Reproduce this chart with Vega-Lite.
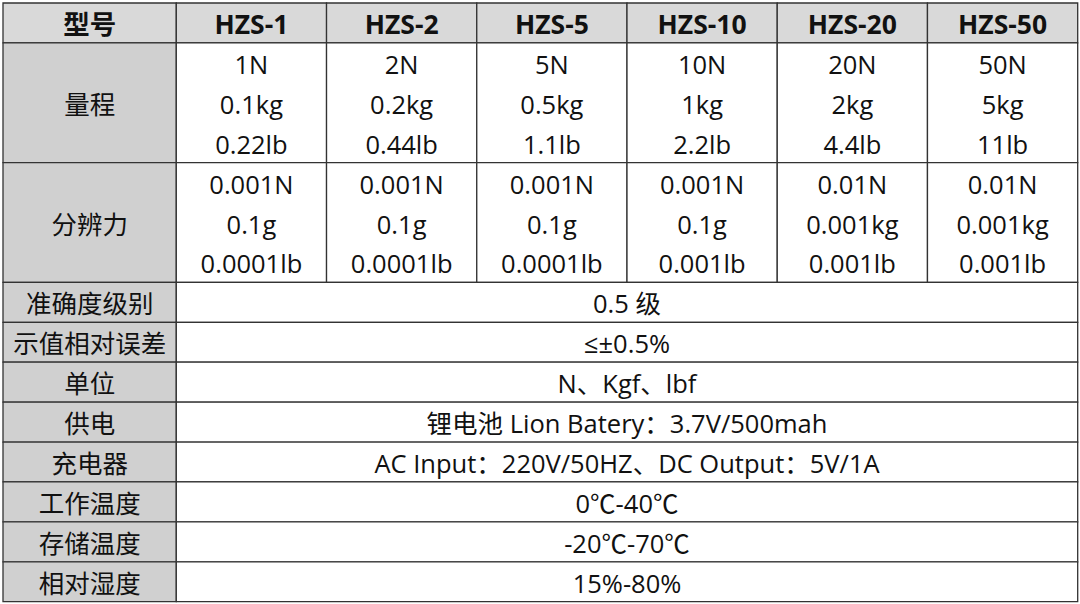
{
  "$schema": "https://vega.github.io/schema/vega-lite/v6.json",
  "width": 1080,
  "height": 604,
  "autosize": "none",
  "padding": 0,
  "background": "white",
  "config": {"view": {"stroke": null}},
  "datasets": {
    "cells": [
      {"c0": 0, "c1": 1, "r0": 0, "r1": 1, "kind": "header"},
      {"c0": 1, "c1": 2, "r0": 0, "r1": 1, "kind": "header"},
      {"c0": 2, "c1": 3, "r0": 0, "r1": 1, "kind": "header"},
      {"c0": 3, "c1": 4, "r0": 0, "r1": 1, "kind": "header"},
      {"c0": 4, "c1": 5, "r0": 0, "r1": 1, "kind": "header"},
      {"c0": 5, "c1": 6, "r0": 0, "r1": 1, "kind": "header"},
      {"c0": 6, "c1": 7, "r0": 0, "r1": 1, "kind": "header"},
      {"c0": 0, "c1": 1, "r0": 1, "r1": 4, "kind": "label"},
      {"c0": 1, "c1": 2, "r0": 1, "r1": 4, "kind": "body"},
      {"c0": 2, "c1": 3, "r0": 1, "r1": 4, "kind": "body"},
      {"c0": 3, "c1": 4, "r0": 1, "r1": 4, "kind": "body"},
      {"c0": 4, "c1": 5, "r0": 1, "r1": 4, "kind": "body"},
      {"c0": 5, "c1": 6, "r0": 1, "r1": 4, "kind": "body"},
      {"c0": 6, "c1": 7, "r0": 1, "r1": 4, "kind": "body"},
      {"c0": 0, "c1": 1, "r0": 4, "r1": 7, "kind": "label"},
      {"c0": 1, "c1": 2, "r0": 4, "r1": 7, "kind": "body"},
      {"c0": 2, "c1": 3, "r0": 4, "r1": 7, "kind": "body"},
      {"c0": 3, "c1": 4, "r0": 4, "r1": 7, "kind": "body"},
      {"c0": 4, "c1": 5, "r0": 4, "r1": 7, "kind": "body"},
      {"c0": 5, "c1": 6, "r0": 4, "r1": 7, "kind": "body"},
      {"c0": 6, "c1": 7, "r0": 4, "r1": 7, "kind": "body"},
      {"c0": 0, "c1": 1, "r0": 7, "r1": 8, "kind": "label"},
      {"c0": 1, "c1": 7, "r0": 7, "r1": 8, "kind": "body"},
      {"c0": 0, "c1": 1, "r0": 8, "r1": 9, "kind": "label"},
      {"c0": 1, "c1": 7, "r0": 8, "r1": 9, "kind": "body"},
      {"c0": 0, "c1": 1, "r0": 9, "r1": 10, "kind": "label"},
      {"c0": 1, "c1": 7, "r0": 9, "r1": 10, "kind": "body"},
      {"c0": 0, "c1": 1, "r0": 10, "r1": 11, "kind": "label"},
      {"c0": 1, "c1": 7, "r0": 10, "r1": 11, "kind": "body"},
      {"c0": 0, "c1": 1, "r0": 11, "r1": 12, "kind": "label"},
      {"c0": 1, "c1": 7, "r0": 11, "r1": 12, "kind": "body"},
      {"c0": 0, "c1": 1, "r0": 12, "r1": 13, "kind": "label"},
      {"c0": 1, "c1": 7, "r0": 12, "r1": 13, "kind": "body"},
      {"c0": 0, "c1": 1, "r0": 13, "r1": 14, "kind": "label"},
      {"c0": 1, "c1": 7, "r0": 13, "r1": 14, "kind": "body"},
      {"c0": 0, "c1": 1, "r0": 14, "r1": 15, "kind": "label"},
      {"c0": 1, "c1": 7, "r0": 14, "r1": 15, "kind": "body"}
    ],
    "headers": [
      {"col": 0.5, "line": 0.5, "text": "型号"},
      {"col": 1.5, "line": 0.5, "text": "HZS-1"},
      {"col": 2.5, "line": 0.5, "text": "HZS-2"},
      {"col": 3.5, "line": 0.5, "text": "HZS-5"},
      {"col": 4.5, "line": 0.5, "text": "HZS-10"},
      {"col": 5.5, "line": 0.5, "text": "HZS-20"},
      {"col": 6.5, "line": 0.5, "text": "HZS-50"}
    ],
    "texts": [
      {"col": 0.5, "line": 2.5, "text": "量程"},
      {"col": 1.5, "line": 1.5, "text": "1N"},
      {"col": 1.5, "line": 2.5, "text": "0.1kg"},
      {"col": 1.5, "line": 3.5, "text": "0.22lb"},
      {"col": 2.5, "line": 1.5, "text": "2N"},
      {"col": 2.5, "line": 2.5, "text": "0.2kg"},
      {"col": 2.5, "line": 3.5, "text": "0.44lb"},
      {"col": 3.5, "line": 1.5, "text": "5N"},
      {"col": 3.5, "line": 2.5, "text": "0.5kg"},
      {"col": 3.5, "line": 3.5, "text": "1.1lb"},
      {"col": 4.5, "line": 1.5, "text": "10N"},
      {"col": 4.5, "line": 2.5, "text": "1kg"},
      {"col": 4.5, "line": 3.5, "text": "2.2lb"},
      {"col": 5.5, "line": 1.5, "text": "20N"},
      {"col": 5.5, "line": 2.5, "text": "2kg"},
      {"col": 5.5, "line": 3.5, "text": "4.4lb"},
      {"col": 6.5, "line": 1.5, "text": "50N"},
      {"col": 6.5, "line": 2.5, "text": "5kg"},
      {"col": 6.5, "line": 3.5, "text": "11lb"},
      {"col": 0.5, "line": 5.5, "text": "分辨力"},
      {"col": 1.5, "line": 4.5, "text": "0.001N"},
      {"col": 1.5, "line": 5.5, "text": "0.1g"},
      {"col": 1.5, "line": 6.5, "text": "0.0001lb"},
      {"col": 2.5, "line": 4.5, "text": "0.001N"},
      {"col": 2.5, "line": 5.5, "text": "0.1g"},
      {"col": 2.5, "line": 6.5, "text": "0.0001lb"},
      {"col": 3.5, "line": 4.5, "text": "0.001N"},
      {"col": 3.5, "line": 5.5, "text": "0.1g"},
      {"col": 3.5, "line": 6.5, "text": "0.0001lb"},
      {"col": 4.5, "line": 4.5, "text": "0.001N"},
      {"col": 4.5, "line": 5.5, "text": "0.1g"},
      {"col": 4.5, "line": 6.5, "text": "0.001lb"},
      {"col": 5.5, "line": 4.5, "text": "0.01N"},
      {"col": 5.5, "line": 5.5, "text": "0.001kg"},
      {"col": 5.5, "line": 6.5, "text": "0.001lb"},
      {"col": 6.5, "line": 4.5, "text": "0.01N"},
      {"col": 6.5, "line": 5.5, "text": "0.001kg"},
      {"col": 6.5, "line": 6.5, "text": "0.001lb"},
      {"col": 0.5, "line": 7.5, "text": "准确度级别"},
      {"col": 4, "line": 7.5, "text": "0.5 级"},
      {"col": 0.5, "line": 8.5, "text": "示值相对误差"},
      {"col": 4, "line": 8.5, "text": "≤±0.5%"},
      {"col": 0.5, "line": 9.5, "text": "单位"},
      {"col": 4, "line": 9.5, "text": "N、Kgf、lbf"},
      {"col": 0.5, "line": 10.5, "text": "供电"},
      {"col": 4, "line": 10.5, "text": "锂电池 Lion Batery：3.7V/500mah"},
      {"col": 0.5, "line": 11.5, "text": "充电器"},
      {"col": 4, "line": 11.5, "text": "AC Input：220V/50HZ、DC Output：5V/1A"},
      {"col": 0.5, "line": 12.5, "text": "工作温度"},
      {"col": 4, "line": 12.5, "text": "0℃-40℃"},
      {"col": 0.5, "line": 13.5, "text": "存储温度"},
      {"col": 4, "line": 13.5, "text": "-20℃-70℃"},
      {"col": 0.5, "line": 14.5, "text": "相对湿度"},
      {"col": 4, "line": 14.5, "text": "15%-80%"}
    ]
  },
  "layer": [
    {
      "data": {"name": "cells"},
      "mark": {"type": "rect", "stroke": "#333333", "strokeWidth": 1.3},
      "encoding": {
        "x": {
          "field": "c0",
          "type": "quantitative",
          "axis": null,
          "scale": {"domain": [0, 1, 7], "range": [3, 176.3, 1077.7], "zero": false, "nice": false}
        },
        "x2": {"field": "c1"},
        "y": {
          "field": "r0",
          "type": "quantitative",
          "axis": null,
          "scale": {"domain": [0, 15], "range": [3, 601.7], "zero": false, "nice": false}
        },
        "y2": {"field": "r1"},
        "fill": {
          "field": "kind",
          "type": "nominal",
          "legend": null,
          "scale": {"domain": ["header", "label", "body"], "range": ["#d9d9d9", "#d0d0d0", "#ffffff"]}
        }
      }
    },
    {
      "data": {"name": "headers"},
      "mark": {
        "type": "text",
        "font": "Open Sans, Noto Sans CJK SC",
        "fontWeight": "bold",
        "fontSize": 26.5,
        "baseline": "middle",
        "align": "center",
        "dy": 3,
        "color": "#111111"
      },
      "encoding": {
        "x": {"field": "col", "type": "quantitative"},
        "y": {"field": "line", "type": "quantitative"},
        "text": {"field": "text", "type": "nominal"}
      }
    },
    {
      "data": {"name": "texts"},
      "mark": {
        "type": "text",
        "font": "Open Sans, Noto Sans CJK SC",
        "fontSize": 25.5,
        "baseline": "middle",
        "align": "center",
        "dy": 3,
        "color": "#111111"
      },
      "encoding": {
        "x": {"field": "col", "type": "quantitative"},
        "y": {"field": "line", "type": "quantitative"},
        "text": {"field": "text", "type": "nominal"}
      }
    }
  ]
}
